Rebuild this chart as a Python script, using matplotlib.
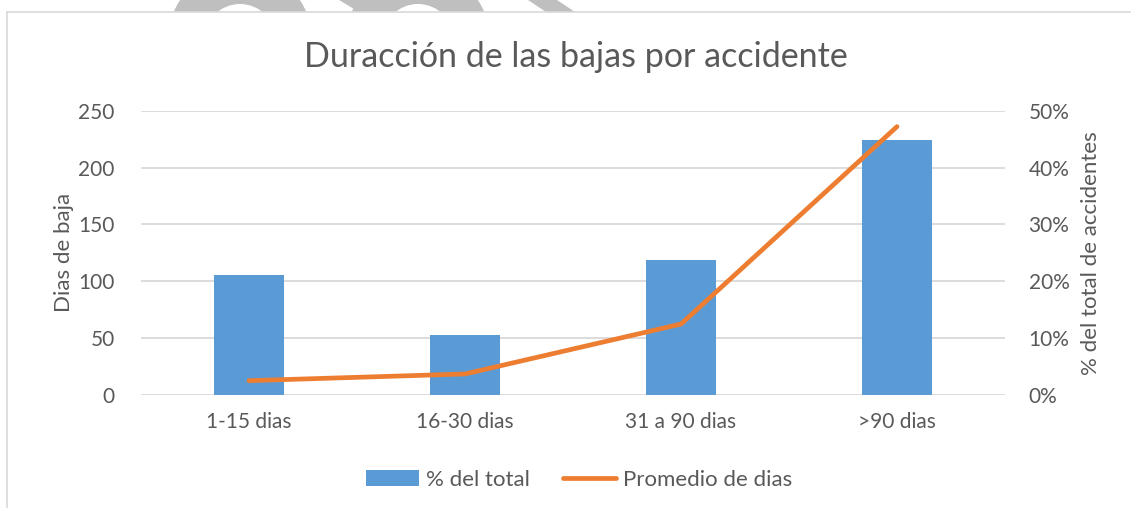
import matplotlib.pyplot as plt
from matplotlib.lines import Line2D
from matplotlib.patches import Wedge, Polygon, Rectangle
from matplotlib.transforms import IdentityTransform

categorias = ['1-15 dias', '16-30 dias', '31 a 90 dias', '>90 dias']
pct_total = [21.1, 10.6, 23.7, 44.8]
promedio_dias = [12.6, 18.5, 62.4, 236]

dias_ticks = [0, 50, 100, 150, 200, 250]
pct_ticks = [0, 10, 20, 30, 40, 50]

AZUL = '#5b9bd5'
NARANJA = '#ed7d31'
GRIS_TXT = '#595959'
GRIS_LINEA = '#d9d9d9'

plt.rcParams['font.family'] = ['Lato', 'DejaVu Sans']

W, H = 1131, 508
fig = plt.figure(figsize=(W / 100, H / 100), dpi=100)
fig.patch.set_facecolor('white')

# faint gray shapes peeking above the chart frame (pixel coords, origin bottom-left)
clip = Rectangle((0, H - 12), W, 12, transform=IdentityTransform())
def px(x, y):
    return (x, H - y)
shapes = [
    Wedge(px(240, 40), 72, 0, 180, width=36),
    Wedge(px(418, 40), 72, 0, 180, width=36),
    Polygon([px(339, 0), px(372, 0), px(392, 12), px(359, 12)], closed=True),
    Polygon([px(528, 0), px(557, 0), px(575, 12), px(546, 12)], closed=True),
]
for s in shapes:
    s.set_transform(IdentityTransform())
    s.set_facecolor('#bfbfbf')
    s.set_edgecolor('none')
    s.set_clip_path(clip)
    fig.add_artist(s)

# chart frame
fig.add_artist(Line2D([7 / W, 7 / W], [0, (H - 12) / H], color=GRIS_LINEA, lw=1.2,
                      transform=fig.transFigure))
fig.add_artist(Line2D([7 / W, 1], [(H - 12) / H, (H - 12) / H], color=GRIS_LINEA, lw=1.2,
                      transform=fig.transFigure))

left, right, top, bottom = 141, 1005, 110.7, 395
ax = fig.add_axes([left / W, (H - bottom) / H, (right - left) / W, (bottom - top) / H])
ax2 = ax.twinx()

x = range(len(categorias))

# bars: percentage of accidents, right-hand scale
ax.bar(x, pct_total, width=0.32, color=AZUL, zorder=2, label='% del total')
ax.set_xlim(-0.5, len(categorias) - 0.5)
ax.set_ylim(0, 50)
ax.set_yticks(pct_ticks)
ax.set_yticklabels([f'{v}%' for v in pct_ticks])
ax.grid(axis='y', color=GRIS_LINEA, lw=1.3, zorder=0)
ax.set_axisbelow(True)
ax.set_xticks(list(x))
ax.set_xticklabels(categorias)
ax.tick_params(axis='both', length=0, labelsize=15, colors=GRIS_TXT)
ax.tick_params(axis='x', pad=12)
ax.yaxis.tick_right()
ax.yaxis.set_label_position('right')
ax.tick_params(axis='y', pad=17)
ax.set_ylabel('% del total de accidentes', fontsize=16, color=GRIS_TXT, labelpad=8)

# line: average days off, left-hand scale
ax2.plot(x, promedio_dias, color=NARANJA, lw=3.4, solid_capstyle='round',
         solid_joinstyle='round', label='Promedio de dias')
ax2.set_ylim(0, 250)
ax2.set_yticks(dias_ticks)
ax2.yaxis.tick_left()
ax2.yaxis.set_label_position('left')
ax2.set_ylabel('Dias de baja', fontsize=16, color=GRIS_TXT, labelpad=3)
ax2.tick_params(axis='y', length=0, labelsize=15, colors=GRIS_TXT, pad=19)

for a in (ax, ax2):
    for sp in a.spines.values():
        sp.set_visible(False)

fig.text(576 / W, (H - 57) / H, 'Duracción de las bajas por accidente',
         ha='center', va='center', fontsize=24.5, color=GRIS_TXT)

h1, l1 = ax.get_legend_handles_labels()
h2, l2 = ax2.get_legend_handles_labels()
fig.legend(h1 + h2, l1 + l2, loc='center', bbox_to_anchor=(579 / W, (H - 480) / H),
           ncol=2, frameon=False, fontsize=16, labelcolor=GRIS_TXT,
           handlelength=2.4, handletextpad=0.3, columnspacing=1.5)

fig.savefig('out.png', dpi=100, facecolor='white')
